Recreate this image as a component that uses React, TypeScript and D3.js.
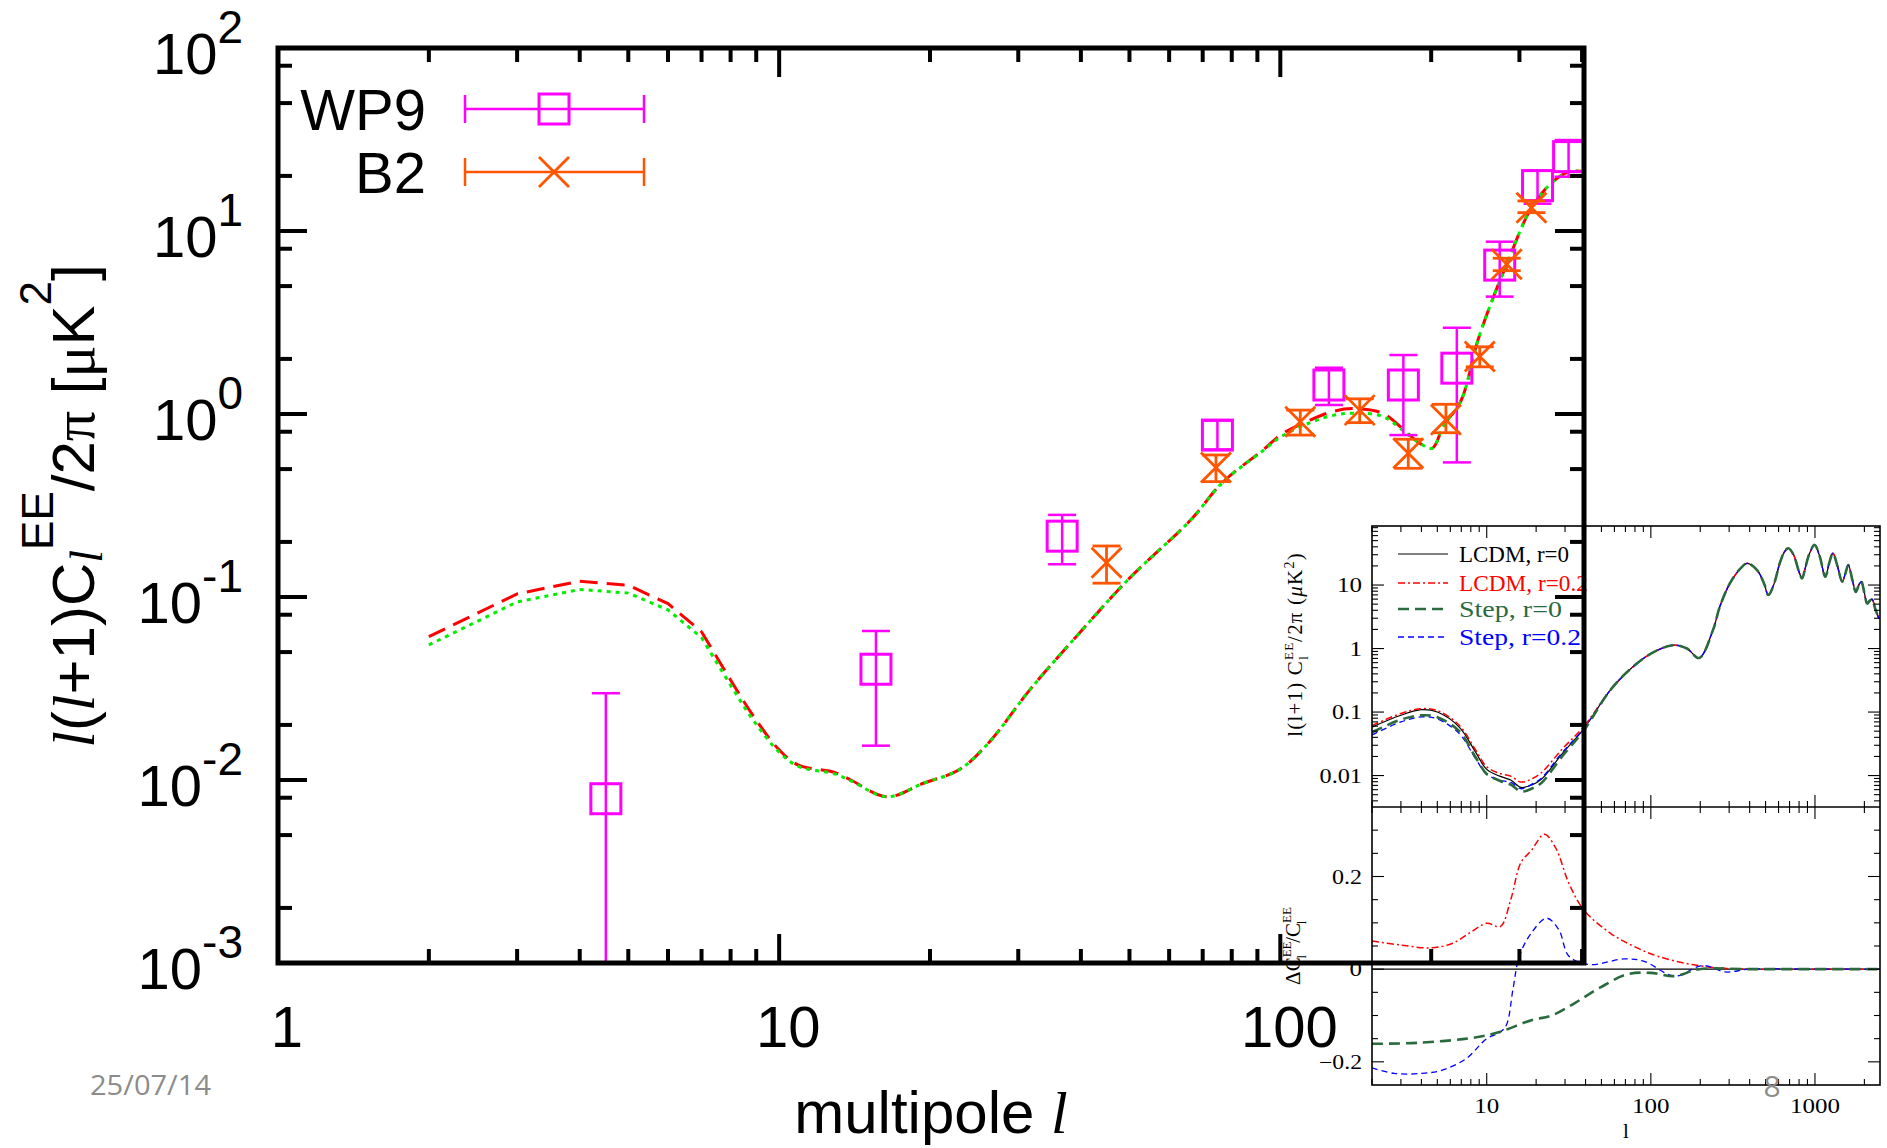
import React from 'react';
import * as d3 from 'd3';

// ---------------- main plot data ----------------
const theoryL = [2, 3, 4, 5, 6, 7, 8, 8.9, 10, 10.9, 12.9, 13.9, 16.4, 19.4, 22.9, 26.3, 31.6, 39.7, 49.9, 66.3, 76.5, 92.3, 101, 115, 127, 139, 160, 178, 190, 201, 212, 229, 248, 268, 283, 317, 350, 378, 404];
const theoryRed = [0.0607, 0.104, 0.122, 0.116, 0.092, 0.0646, 0.0352, 0.0222, 0.0146, 0.0121, 0.011, 0.010, 0.0081, 0.0096, 0.0114, 0.0162, 0.031, 0.0634, 0.126, 0.264, 0.42, 0.635, 0.78, 0.93, 1.03, 1.07, 1.01, 0.80, 0.69, 0.65, 0.87, 1.17, 2.54, 4.57, 6.58, 13.4, 18.6, 21.1, 21.1];
const theoryGreen = [0.0547, 0.094, 0.110, 0.105, 0.085, 0.060, 0.033, 0.021, 0.0142, 0.0119, 0.0108, 0.0099, 0.0081, 0.0096, 0.0114, 0.0162, 0.031, 0.0634, 0.126, 0.264, 0.42, 0.63, 0.76, 0.90, 0.98, 1.01, 0.97, 0.79, 0.69, 0.65, 0.87, 1.17, 2.54, 4.57, 6.58, 13.4, 18.6, 21.1, 21.1];
const theoryLinearBelow = 7; // low-l part drawn as straight segments between integer multipoles

const wp9L = [4.51, 15.6, 36.7, 74.9, 125, 176, 225, 274, 326, 376];
const wp9Val = [0.0079, 0.0403, 0.215, 0.767, 1.44, 1.44, 1.78, 6.51, 17.7, 25.5];
const wp9Lo = [0.0004, 0.0154, 0.151, 0.64, 1.12, 0.767, 0.544, 4.38, 14.1, 19.8];
const wp9Hi = [0.0298, 0.0652, 0.281, 0.92, 1.79, 2.10, 2.96, 8.74, 21.4, 31.4];

const b2L = [45, 74.4, 109.6, 144, 180, 214, 250, 283, 317];
const b2Val = [0.154, 0.51, 0.908, 1.05, 0.61, 0.93, 2.06, 6.58, 13.4];
const b2Lo = [0.119, 0.427, 0.767, 0.897, 0.505, 0.79, 1.81, 6.07, 12.6];
const b2Hi = [0.19, 0.597, 1.05, 1.21, 0.728, 1.13, 2.33, 7.1, 14.6];

const mainXMajor = [1, 10, 100];
const mainXLabels = ['1', '10', '100'];
const mainYExps = ['2', '1', '0', '-1', '-2', '-3'];
const mainYMajor = [1e2, 1e1, 1, 1e-1, 1e-2, 1e-3];

// ---------------- inset data ----------------
const insLowL = [2, 3, 4, 5, 6.8, 8.5, 10, 12, 14, 16.2, 19, 21.6, 28.8, 39];
const insBlackLow = [0.058, 0.089, 0.109, 0.100, 0.058, 0.024, 0.0125, 0.0098, 0.0085, 0.0065, 0.0072, 0.0088, 0.022, 0.0545];
const insRedLow = [0.061, 0.095, 0.113, 0.106, 0.062, 0.026, 0.0138, 0.0108, 0.0098, 0.0079, 0.0090, 0.0112, 0.026, 0.059];
const insGreenLow = [0.048, 0.076, 0.089, 0.083, 0.050, 0.020, 0.0106, 0.0083, 0.0072, 0.0056, 0.0063, 0.0077, 0.020, 0.051];
const insBlueLow = [0.0435, 0.070, 0.084, 0.078, 0.046, 0.019, 0.0105, 0.0085, 0.0078, 0.0062, 0.0074, 0.0092, 0.023, 0.055];
const insTailL = [56.5, 75.4, 100, 137, 166, 197, 239, 263, 303, 352, 386, 445, 490, 520, 560, 610, 650, 688, 740, 800, 834, 870, 920, 995, 1070, 1156, 1220, 1286, 1370, 1464, 1530, 1596, 1690, 1774, 1850, 1916, 2000, 2080, 2150, 2226, 2330, 2450];
const insTailV = [0.22, 0.48, 0.83, 1.13, 1.0, 0.71, 1.95, 4.55, 10.6, 18.3, 22, 17, 10.5, 6.95, 10, 22, 33, 38, 30, 16, 12.7, 18, 30, 42.8, 28, 13.5, 22, 31.7, 20, 11.3, 15, 20.7, 12, 7.8, 10, 11.3, 7.5, 5.1, 5.6, 6.0, 4.2, 2.98];

const ratioRedL = [2, 3, 4.6, 6.2, 8, 10, 12.1, 14, 16.2, 18.7, 22.4, 26.2, 31.7, 39, 56.5, 79, 110, 178, 290, 500, 1000, 2500];
const ratioRed = [0.061, 0.052, 0.046, 0.056, 0.08, 0.099, 0.092, 0.15, 0.231, 0.256, 0.291, 0.263, 0.185, 0.128, 0.078, 0.049, 0.028, 0.01, 0.0015, 0, 0, 0];
const ratioBlueL = [2, 2.73, 4, 5.36, 7.5, 10, 12.1, 13.2, 14.5, 15.8, 18.7, 23.2, 27.5, 31.7, 42.3, 68.6, 91, 140, 207, 284, 400, 1000, 2500];
const ratioBlue = [-0.213, -0.225, -0.225, -0.218, -0.193, -0.150, -0.136, -0.12, -0.04, 0.028, 0.078, 0.110, 0.085, 0.028, 0.010, 0.022, 0.017, -0.015, 0.008, -0.006, 0, 0, 0];
const ratioGreenL = [2, 3.8, 8.65, 12.1, 18.7, 24.9, 34.8, 48.9, 71.8, 100, 140, 197, 400, 1000, 2500];
const ratioGreen = [-0.161, -0.159, -0.147, -0.135, -0.110, -0.100, -0.072, -0.040, -0.011, -0.008, -0.015, 0, 0, 0, 0];
const ratioBlackL = [2, 2500];
const ratioBlack = [0, 0];

const insXMajor = [10, 100, 1000];
const insXLabels = ['10', '100', '1000'];
const insYUpMajor = [10, 1, 0.1, 0.01];
const insYUpLabels = ['10', '1', '0.1', '0.01'];
const insYLowMajor = [0.2, 0, -0.2];
const insYLowLabels = ['0.2', '0', '\u22120.2'];

const legendMain = ['WP9', 'B2'];
const legendInset = ['LCDM,  r=0', 'LCDM,  r=0.2', 'Step,  r=0', 'Step,  r=0.2'];

const MAGENTA = '#ff00ff';
const ORANGE = '#ff5500';
const IGREEN = '#2a6b3e';

const SANS = 'Liberation Sans, Arial, sans-serif';
const SERIF = 'Liberation Serif, Times New Roman, serif';

function zip(a: number[], b: number[]): [number, number][] {
  return a.map((v, i) => [v, b[i]]);
}

// width of a tick label in the wide inset font
function insetLabelWidth(s: string): number {
  let w = 0;
  for (const ch of s) w += ch === '.' ? 5 : ch === '\u2212' ? 13 : 12.5;
  return w;
}

export default function App() {
  const xM = d3.scaleLog().domain([1, 403.6]).range([278, 1584]);
  const yM = d3.scaleLog().domain([1e-3, 1e2]).range([963, 48]);
  const [mx0, mx1] = xM.range();
  const [my0, my1] = yM.range();

  const lineMsmooth = d3.line<[number, number]>().x(d => xM(d[0])).y(d => yM(d[1])).curve(d3.curveCatmullRom.alpha(0.5));
  const lineMlin = d3.line<[number, number]>().x(d => xM(d[0])).y(d => yM(d[1]));
  const theoryPath = (vals: number[]) => {
    const pts = zip(theoryL, vals);
    const lo = pts.filter(p => p[0] <= theoryLinearBelow);
    const hi = pts.filter(p => p[0] >= theoryLinearBelow);
    return (lineMlin(lo) || '') + ' ' + (lineMsmooth(hi) || '');
  };

  const xMinor: number[] = [];
  [1, 10, 100].forEach(dec => { for (let k = 2; k <= 9; k++) { const v = dec * k; if (v < 403) xMinor.push(v); } });
  const yMinor: number[] = [];
  [1e-3, 1e-2, 1e-1, 1, 10].forEach(dec => { [2, 5, 8].forEach(k => yMinor.push(dec * k)); });

  const xI = d3.scaleLog().domain([2, 2490]).range([1372, 1880]);
  const yIU = d3.scaleLog().domain([0.0032, 85]).range([807, 526]);
  const yIL = d3.scaleLinear().domain([-0.25, 0.35]).range([1085, 807]);
  const [ix0, ix1] = xI.range();
  const iTop = yIU.range()[1];
  const iMid = yIU.range()[0];
  const iBot = yIL.range()[0];

  const lineIU = d3.line<[number, number]>().x(d => xI(d[0])).y(d => yIU(d[1])).curve(d3.curveCatmullRom.alpha(0.5));
  const lineIL = d3.line<[number, number]>().x(d => xI(d[0])).y(d => yIL(d[1])).curve(d3.curveCatmullRom.alpha(0.5));

  const insXMinor: number[] = [];
  [1, 10, 100, 1000].forEach(dec => { for (let k = 2; k <= 9; k++) { const v = dec * k; if (v >= 2 && v <= 2490 && !insXMajor.includes(v)) insXMinor.push(v); } });
  const insYMinor: number[] = [];
  [0.001, 0.01, 0.1, 1, 10].forEach(dec => { for (let k = 2; k <= 9; k++) { const v = dec * k; if (v >= 0.0032 && v <= 85) insYMinor.push(v); } });
  const insYLowMinor = d3.range(-0.25, 0.351, 0.05).map(v => Math.round(v * 100) / 100).filter(v => !insYLowMajor.includes(v) && v > -0.25 && v < 0.35);

  const blackUp = zip(insLowL.concat(insTailL), insBlackLow.concat(insTailV));
  const redUp = zip(insLowL.concat(insTailL), insRedLow.concat(insTailV));
  const greenUp = zip(insLowL.concat(insTailL), insGreenLow.concat(insTailV));
  const blueUp = zip(insLowL.concat(insTailL), insBlueLow.concat(insTailV));

  const insetStyles = [
    { color: '#000', dash: undefined as string | undefined, w: 1.2 },
    { color: '#ff0000', dash: '7 3 2 3', w: 1.5 },
    { color: IGREEN, dash: '11 6', w: 2.6 },
    { color: '#0000ff', dash: '6 4', w: 1.3 },
  ];
  const legendY = [554, 583, 609, 637];
  const legendLen = [110, 129, 103, 122];

  const errCap = 14;
  const half = 15;

  return (
    <svg width={1887} height={1148} style={{ position: 'absolute', left: 0, top: 0, background: '#fff' }} fontFamily={SANS}>
      <defs>
        <clipPath id="mainClip"><rect x={mx0} y={my1} width={mx1 - mx0} height={my0 - my1} /></clipPath>
        <clipPath id="insUp"><rect x={ix0} y={iTop} width={ix1 - ix0} height={iMid - iTop} /></clipPath>
        <clipPath id="insLow"><rect x={ix0} y={iMid} width={ix1 - ix0} height={iBot - iMid} /></clipPath>
      </defs>
      <rect x={0} y={0} width={1887} height={1148} fill="#fff" />

      {/* ================= INSET ================= */}
      <g>
        <rect x={1262} y={520} width={625} height={628} fill="#fff" />
        <g clipPath="url(#insUp)" fill="none">
          {[blackUp, redUp, blueUp, greenUp].map((pts, i) => {
            const st = insetStyles[[0, 1, 3, 2][i]];
            return <path key={i} d={lineIU(pts) || ''} stroke={st.color} strokeWidth={st.w} strokeDasharray={st.dash} />;
          })}
        </g>
        <g clipPath="url(#insLow)" fill="none">
          <path d={lineIL(zip(ratioBlackL, ratioBlack)) || ''} stroke="#000" strokeWidth={1.2} />
          <path d={lineIL(zip(ratioRedL, ratioRed)) || ''} stroke="#ff0000" strokeWidth={1.5} strokeDasharray="7 3 2 3" />
          <path d={lineIL(zip(ratioBlueL, ratioBlue)) || ''} stroke="#0000ff" strokeWidth={1.3} strokeDasharray="6 4" />
          <path d={lineIL(zip(ratioGreenL, ratioGreen)) || ''} stroke={IGREEN} strokeWidth={2.6} strokeDasharray="11 6" />
        </g>
        <rect x={ix0} y={iTop} width={ix1 - ix0} height={iBot - iTop} fill="none" stroke="#000" strokeWidth={1.6} />
        <line x1={ix0} x2={ix1} y1={iMid} y2={iMid} stroke="#000" strokeWidth={1.6} />
        <g stroke="#000" strokeWidth={1.1}>
          {[iTop, iMid].map((yy, j) => (
            <g key={j}>
              {insXMajor.map(v => <line key={'a' + v} x1={xI(v)} x2={xI(v)} y1={yy} y2={yy + 12} />)}
              {insXMinor.map(v => <line key={'b' + v} x1={xI(v)} x2={xI(v)} y1={yy} y2={yy + 6} />)}
            </g>
          ))}
          {[iMid, iBot].map((yy, j) => (
            <g key={'u' + j}>
              {insXMajor.map(v => <line key={'a' + v} x1={xI(v)} x2={xI(v)} y1={yy} y2={yy - 12} />)}
              {insXMinor.map(v => <line key={'b' + v} x1={xI(v)} x2={xI(v)} y1={yy} y2={yy - 6} />)}
            </g>
          ))}
          {insYUpMajor.map(v => <g key={'ym' + v}><line x1={ix0} x2={ix0 + 12} y1={yIU(v)} y2={yIU(v)} /><line x1={ix1} x2={ix1 - 12} y1={yIU(v)} y2={yIU(v)} /></g>)}
          {insYMinor.map(v => <g key={'yn' + v}><line x1={ix0} x2={ix0 + 6} y1={yIU(v)} y2={yIU(v)} /><line x1={ix1} x2={ix1 - 6} y1={yIU(v)} y2={yIU(v)} /></g>)}
          {insYLowMajor.map(v => <g key={'lm' + v}><line x1={ix0} x2={ix0 + 12} y1={yIL(v)} y2={yIL(v)} /><line x1={ix1} x2={ix1 - 12} y1={yIL(v)} y2={yIL(v)} /></g>)}
          {insYLowMinor.map(v => <g key={'ln' + v}><line x1={ix0} x2={ix0 + 6} y1={yIL(v)} y2={yIL(v)} /><line x1={ix1} x2={ix1 - 6} y1={yIL(v)} y2={yIL(v)} /></g>)}
        </g>
        <g fontFamily={SERIF} fontSize={20} fill="#000">
          {insYUpMajor.map((v, i) => <text key={'tl' + v} x={ix0 - 10} y={yIU(v) + 7} textAnchor="end" textLength={insetLabelWidth(insYUpLabels[i])} lengthAdjust="spacingAndGlyphs">{insYUpLabels[i]}</text>)}
          {insYLowMajor.map((v, i) => <text key={'tll' + v} x={ix0 - 10} y={yIL(v) + 7} textAnchor="end" textLength={insetLabelWidth(insYLowLabels[i])} lengthAdjust="spacingAndGlyphs">{insYLowLabels[i]}</text>)}
          {insXMajor.map((v, i) => <text key={'xl' + v} x={xI(v)} y={iBot + 28} textAnchor="middle" textLength={insetLabelWidth(insXLabels[i])} lengthAdjust="spacingAndGlyphs">{insXLabels[i]}</text>)}
          <text x={1626} y={1138} textAnchor="middle" fontSize={21}>l</text>
          <text transform={`translate(1302,${(iTop + iMid) / 2 - 22}) rotate(-90)`} textAnchor="middle" fontSize={21} letterSpacing={1.2}>
            l(l+1)   C<tspan fontSize={13} dy={-9}>EE</tspan><tspan fontSize={13} dx={-18} dy={15}>l</tspan><tspan dy={-6} dx={13}>/2</tspan><tspan>π   (</tspan><tspan fontStyle="italic">μ</tspan>K<tspan fontSize={14} dy={-8}>2</tspan><tspan dy={8}>)</tspan>
          </text>
          <text transform={`translate(1300,${(iMid + iBot) / 2}) rotate(-90)`} textAnchor="middle" fontSize={21}>
            ΔC<tspan fontSize={13} dy={-9}>EE</tspan><tspan fontSize={13} dx={-17} dy={15}>l</tspan><tspan dy={-6} dx={12}>/C</tspan><tspan fontSize={13} dy={-9}>EE</tspan><tspan fontSize={13} dx={-17} dy={15}>l</tspan>
          </text>
        </g>
        {legendInset.map((t, i) => (
          <g key={t}>
            <line x1={1398} x2={1448} y1={legendY[i]} y2={legendY[i]} stroke={insetStyles[i].color} strokeWidth={insetStyles[i].w} strokeDasharray={insetStyles[i].dash} />
            <text x={1459} y={legendY[i] + 8} fontFamily={SERIF} fontSize={23} fill={insetStyles[i].color} textLength={legendLen[i]} lengthAdjust="spacingAndGlyphs">{t}</text>
          </g>
        ))}
      </g>

      {/* ================= MAIN PLOT ================= */}
      <g clipPath="url(#mainClip)" fill="none">
        <path d={theoryPath(theoryRed)} stroke="#ff0000" strokeWidth={3} strokeDasharray="18 9" />
        <path d={theoryPath(theoryGreen)} stroke="#00ee00" strokeWidth={3} strokeDasharray="4 5" />
        {wp9L.map((l, i) => {
          const cx = xM(l), cy = yM(wp9Val[i]), yl = yM(wp9Lo[i]), yh = yM(wp9Hi[i]);
          return (
            <g key={'w' + i} stroke={MAGENTA}>
              <line x1={cx} x2={cx} y1={yl} y2={yh} strokeWidth={2.5} />
              <line x1={cx - errCap} x2={cx + errCap} y1={yl} y2={yl} strokeWidth={2.5} />
              <line x1={cx - errCap} x2={cx + errCap} y1={yh} y2={yh} strokeWidth={2.5} />
              <rect x={cx - half} y={cy - half} width={2 * half} height={2 * half} strokeWidth={3} />
            </g>
          );
        })}
        {b2L.map((l, i) => {
          const cx = xM(l), cy = yM(b2Val[i]), yl = yM(b2Lo[i]), yh = yM(b2Hi[i]);
          return (
            <g key={'b' + i} stroke={ORANGE} strokeWidth={2.8}>
              <line x1={cx} x2={cx} y1={yl} y2={yh} />
              <line x1={cx - errCap} x2={cx + errCap} y1={yl} y2={yl} />
              <line x1={cx - errCap} x2={cx + errCap} y1={yh} y2={yh} />
              <line x1={cx - half} x2={cx + half} y1={cy - half} y2={cy + half} />
              <line x1={cx - half} x2={cx + half} y1={cy + half} y2={cy - half} />
            </g>
          );
        })}
      </g>

      <g stroke="#000" strokeWidth={4}>
        {mainXMajor.map(v => <g key={'mx' + v}><line x1={xM(v)} x2={xM(v)} y1={my0} y2={my0 - 29} /><line x1={xM(v)} x2={xM(v)} y1={my1} y2={my1 + 29} /></g>)}
        {xMinor.map(v => <g key={'mxn' + v}><line x1={xM(v)} x2={xM(v)} y1={my0} y2={my0 - 14} /><line x1={xM(v)} x2={xM(v)} y1={my1} y2={my1 + 14} /></g>)}
        {mainYMajor.map(v => <g key={'my' + v}><line x1={mx0} x2={mx0 + 29} y1={yM(v)} y2={yM(v)} /><line x1={mx1} x2={mx1 - 29} y1={yM(v)} y2={yM(v)} /></g>)}
        {yMinor.map(v => <g key={'myn' + v}><line x1={mx0} x2={mx0 + 14} y1={yM(v)} y2={yM(v)} /><line x1={mx1} x2={mx1 - 14} y1={yM(v)} y2={yM(v)} /></g>)}
        <rect x={mx0} y={my1} width={mx1 - mx0} height={my0 - my1} fill="none" strokeWidth={5} />
      </g>

      <g fontSize={58} fill="#000">
        {mainYMajor.map((v, i) => (
          <text key={'yl' + v} x={243} y={yM(v) + 26} textAnchor="end">10<tspan fontSize={46} dy={-31}>{mainYExps[i]}</tspan></text>
        ))}
        {mainXMajor.map((v, i) => (
          <text key={'xl' + v} x={xM(v) + 9} y={1047} textAnchor="middle">{mainXLabels[i]}</text>
        ))}
      </g>

      <text x={(mx0 + mx1) / 2} y={1133} textAnchor="middle" fontSize={60}>multipole <tspan fontFamily={SERIF} fontStyle="italic">l</tspan></text>
      <text transform={`translate(94,506) rotate(-90)`} textAnchor="middle" fontSize={60}>
        <tspan fontFamily={SERIF} fontStyle="italic">l</tspan>(<tspan fontFamily={SERIF} fontStyle="italic">l</tspan>+1)C<tspan fontFamily={SERIF} fontStyle="italic" fontSize={46} dy={8}>l</tspan><tspan fontSize={44} dy={-49}>EE</tspan><tspan dy={41}>/2</tspan><tspan fontFamily={SERIF}>π</tspan> [<tspan fontFamily={SERIF}>μ</tspan>K<tspan fontSize={44} dy={-43}>2</tspan><tspan dy={43}>]</tspan>
      </text>

      <g>
        {legendMain.map((t, i) => {
          const ly = [109, 172][i];
          const col = [MAGENTA, ORANGE][i];
          return (
            <g key={t}>
              <text x={426} y={ly + 21} textAnchor="end" fontSize={58}>{t}</text>
              <g stroke={col} strokeWidth={2.5}>
                <line x1={465} x2={644} y1={ly} y2={ly} />
                <line x1={465} x2={465} y1={ly - 14} y2={ly + 14} />
                <line x1={644} x2={644} y1={ly - 14} y2={ly + 14} />
                {i === 0 ? (
                  <rect x={554 - half} y={ly - half} width={2 * half} height={2 * half} fill="none" strokeWidth={3} />
                ) : (
                  <g strokeWidth={2.8}>
                    <line x1={554 - half} x2={554 + half} y1={ly - half} y2={ly + half} />
                    <line x1={554 - half} x2={554 + half} y1={ly + half} y2={ly - half} />
                  </g>
                )}
              </g>
            </g>
          );
        })}
      </g>

      <text x={90} y={1095} fontSize={27} fill="#8c8c8c" fontFamily="Open Sans, sans-serif" textLength={121} lengthAdjust="spacingAndGlyphs">25/07/14</text>
      <text x={1772} y={1097} fontSize={30} fill="#8c8c8c" textAnchor="middle" fontFamily="Open Sans, sans-serif">8</text>
    </svg>
  );
}
